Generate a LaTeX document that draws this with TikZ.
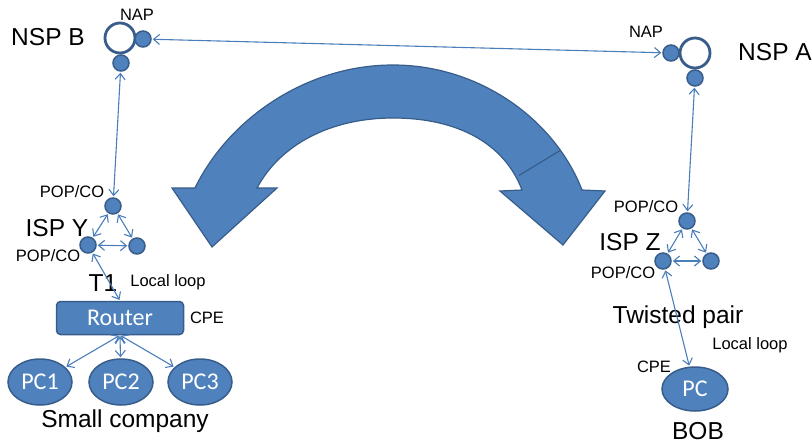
\documentclass[tikz,border=0pt]{standalone}
\usepackage{fontspec}
\setmainfont{Liberation Sans}
\newfontfamily\calibri{Carlito}
\usetikzlibrary{arrows.meta,shapes.geometric}
\definecolor{boxblue}{HTML}{4F81BD}
\definecolor{edgeblue}{HTML}{385D8A}
\definecolor{linkblue}{HTML}{4A7EBB}

\begin{document}
\begin{tikzpicture}[<->,>={Straight Barb[length=6pt,width=10pt]},shorten >=1pt,shorten <=1pt,x=1pt,y=-1pt,
        pop node/.style={circle,fill=boxblue,draw=edgeblue,line width=1.5pt,minimum size=16pt,inner sep=0pt},
        nsp node/.style={circle,fill=white,draw=edgeblue,line width=2.8pt,minimum size=30pt,inner sep=0pt},
        pc node/.style={ellipse,fill=boxblue,draw=edgeblue,line width=1.5pt,minimum width=64pt,minimum height=46pt,inner sep=0pt,text=white,font=\calibri\fontsize{24}{24}\selectfont},
        small label/.style={font=\fontsize{16.5}{18}\selectfont,text height=11.8pt,text depth=0pt,inner sep=0pt},
        big label/.style={font=\fontsize{24.5}{26}\selectfont,text height=17.5pt,text depth=0pt,inner sep=0pt},
        link/.style={draw=linkblue,line width=1.1pt}]
      \useasboundingbox (0,0) rectangle (812,444);

      % the big two-way arrow in the middle
      \filldraw[-,fill=boxblue,draw=edgeblue,line width=1.2pt]
        (172,188) -- (212,247) -- (277,188) -- (257,188)
        .. controls (280,145) and (330,118) .. (393,118)
        .. controls (460,118) and (505,145) .. (522,190)
        -- (500,191) -- (563,245) -- (605,191) -- (582,190)
        .. controls (555,120) and (480,65) .. (393,65)
        .. controls (305,65) and (228,120) .. (195,188) -- cycle;
      \draw[-,draw=edgeblue,line width=1.2pt] (561,150) -- (518,176);

      % NSP B
      \node[nsp node] (nspb) at (120,38) {};
      \node[pop node] (napb) at (143,39) {};
      \node[pop node] (nspbdown) at (121,63) {};
      % NSP A
      \node[nsp node] (nspa) at (695,53) {};
      \node[pop node] (napa) at (671,53) {};
      \node[pop node] (nspadown) at (695,78) {};

      % ISP Y
      \node[pop node] (ytop) at (113,206) {};
      \node[pop node] (yleft) at (88,245) {};
      \node[pop node] (yright) at (137,246) {};
      % ISP Z
      \node[pop node] (ztop) at (687,221) {};
      \node[pop node] (zleft) at (663,261) {};
      \node[pop node] (zright) at (711,261) {};

      \node[rectangle,rounded corners=4pt,fill=boxblue,draw=edgeblue,line width=1.5pt,minimum width=127pt,minimum height=33pt,
            inner sep=0pt,text=white,font=\calibri\fontsize{24}{24}\selectfont] (router) at (120,318) {Router};
      \node[pc node] (pc1) at (40,382) {PC1};
      \node[pc node] (pc2) at (121,382) {PC2};
      \node[pc node] (pc3) at (200,382) {PC3};
      \node[pc node,minimum width=66pt,minimum height=44pt] (bob) at (695,389) {PC};

      % labels
      \node[small label] at (137,15) {NAP};
      \node[big label] at (48,37) {NSP B};
      \node[small label] at (646,32) {NAP};
      \node[big label] at (775,52) {NSP A};
      \node[small label] at (72,192) {POP/CO};
      \node[big label] at (57,228) {ISP Y};
      \node[small label] at (48,256) {POP/CO};
      \node[big label] at (103,283) {T1};
      \node[small label] at (168,281) {Local loop};
      \node[small label] at (207,318) {CPE};
      \node[big label] at (125,419) {Small company};
      \node[small label] at (646,207) {POP/CO};
      \node[big label] at (630,242) {ISP Z};
      \node[small label] at (623,273) {POP/CO};
      \node[big label] at (678,315) {Twisted pair};
      \node[small label] at (750,344) {Local loop};
      \node[small label] at (654,367) {CPE};
      \node[big label] at (698,431) {BOB};

      \path[link]
      (napb) edge (napa)
      (nspbdown) edge (ytop)
      (nspadown) edge (ztop)
      (ytop) edge (yleft)
      (ytop) edge (yright)
      (yleft) edge (yright)
      (ztop) edge (zleft)
      (ztop) edge (zright)
      (zleft) edge (zright)
      (yleft) edge (router.north)
      (router.south) edge (pc1)
      (router.south) edge (pc2)
      (router.south) edge (pc3)
      (zleft) edge (bob);
      \end{tikzpicture}
\end{document}
